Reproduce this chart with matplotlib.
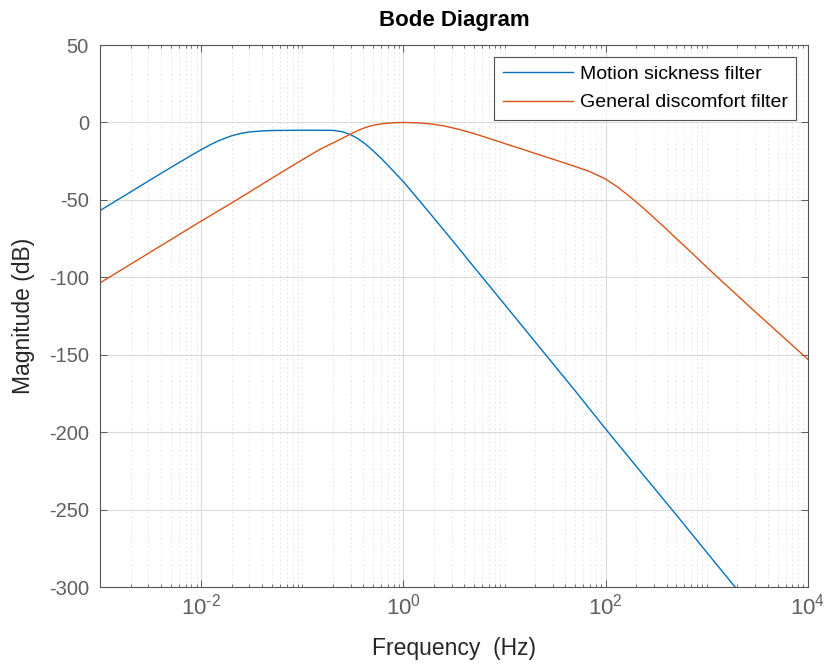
import numpy as np
import matplotlib
matplotlib.use("Agg")
import matplotlib.pyplot as plt
from matplotlib.ticker import FixedLocator, FuncFormatter, NullFormatter

plt.rcParams["font.family"] = ["Liberation Sans", "DejaVu Sans"]
plt.rcParams["axes.unicode_minus"] = False
plt.rcParams["mathtext.fontset"] = "custom"
plt.rcParams["mathtext.rm"] = "Liberation Sans"
plt.rcParams["mathtext.it"] = "Liberation Sans"
plt.rcParams["mathtext.default"] = "regular"

# magnitude (Hz, dB)
ms_freq = [0.001, 0.002, 0.00325, 0.005, 0.008, 0.01, 0.0123, 0.015, 0.02, 0.025,
           0.03, 0.04, 0.05, 0.1, 0.2, 0.25, 0.3, 0.35, 0.42, 0.5, 0.62, 0.8,
           1.0, 1.4, 1.94, 2.94, 5, 10, 20, 50, 100, 200, 500, 1000, 1900]
ms_mag = [-56.9, -44.9, -36.5, -29.1, -21.2, -17.6, -14.4, -11.7, -8.6, -7.0,
          -6.1, -5.5, -5.2, -5.0, -5.1, -6.0, -7.9, -10.2, -13.9, -18.2, -24.0, -31.6,
          -38.3, -49.6, -60.7, -75.0, -93.5, -117.5, -141.6, -173.4, -198.0, -222.0, -253.5, -277.7, -300.0]

gd_freq = [0.001, 0.002, 0.005, 0.01, 0.0154, 0.0225, 0.05, 0.093, 0.15, 0.2,
           0.25, 0.29, 0.32, 0.35, 0.38, 0.42, 0.46, 0.5, 0.55, 0.62, 0.7, 0.8,
           1.0, 1.4, 1.94, 2.5, 3.56, 5, 7, 10, 15, 21.4, 30, 45.7, 70, 100,
           130, 170, 220, 300, 400, 500, 653, 1000, 1245, 3000, 10000]
gd_mag = [-103.6, -91.6, -75.7, -63.7, -56.4, -50.0, -36.0, -25.3, -17.3, -13.3,
          -10.2, -8.0, -6.6, -5.4, -4.4, -3.3, -2.5, -1.9, -1.35, -0.85, -0.5, -0.2,
          0.0, -0.3, -1.1, -2.2, -4.5, -7.2, -10.3, -13.6, -17.3, -20.6, -23.7, -27.6, -31.8, -36.6,
          -41.5, -47.5, -53.6, -61.5, -69.0, -75.0, -82.0, -93.5, -99.3, -122.2, -153.0]

labels = ["Motion sickness filter", "General discomfort filter"]
colors = ["#0072BD", "#D95319"]
yticks = [50, 0, -50, -100, -150, -200, -250, -300]
xticks = [1e-2, 1e0, 1e2, 1e4]

fig = plt.figure(figsize=(8.27, 6.66), dpi=100)
ax = fig.add_axes([0.121, 0.1186, 0.856, 0.8138])

ax.plot(ms_freq, ms_mag, color=colors[0], linewidth=1.0, label=labels[0])
ax.plot(gd_freq, gd_mag, color=colors[1], linewidth=1.0, label=labels[1])

ax.set_xscale("log")
ax.set_xlim(1e-3, 1e4)
ax.set_ylim(-300, 50)

ax.xaxis.set_major_locator(FixedLocator(xticks))
ax.xaxis.set_major_formatter(FuncFormatter(lambda v, p: r"$10^{\text{%d}}$" % round(np.log10(v))))
minor = [m * 10.0 ** d for d in range(-3, 4) for m in range(1, 10)
         if not (m == 1 and d % 2 == 0)]
ax.xaxis.set_minor_locator(FixedLocator(minor))
ax.xaxis.set_minor_formatter(NullFormatter())
ax.set_yticks(yticks)

ax.grid(True, which="major", color="#dadada", linestyle="-", linewidth=0.8)
ax.grid(True, which="minor", axis="x", color="#e0e0e0", linestyle=(0, (1.5, 3)), linewidth=0.7)
ax.set_axisbelow(True)

ax.tick_params(which="both", direction="in", top=True, right=True,
               colors="#5a5a5a", labelcolor="#5f5f5f")
ax.tick_params(which="major", length=5, labelsize=14.5, width=0.7)
ax.tick_params(which="minor", length=2.5, width=0.6)
ax.tick_params(axis="x", pad=5, labelsize=16)
ax.tick_params(axis="y", pad=8)
for s in ax.spines.values():
    s.set_color("#555555")
    s.set_linewidth(0.8)

ax.set_title("Bode Diagram", fontsize=16, fontweight="bold", pad=14)
ax.set_xlabel("Frequency  (Hz)", fontsize=16.5, color="#262626", labelpad=12)
ax.set_ylabel("Magnitude (dB)", fontsize=16.5, color="#262626", labelpad=10)

leg = ax.legend(loc="upper right", fontsize=14, frameon=True, fancybox=False,
                edgecolor="#262626", handlelength=3.6, handletextpad=0.35,
                borderpad=0.45, labelspacing=0.55, borderaxespad=0.6)
leg.get_frame().set_linewidth(0.8)

fig.savefig("out.png", dpi=100)
